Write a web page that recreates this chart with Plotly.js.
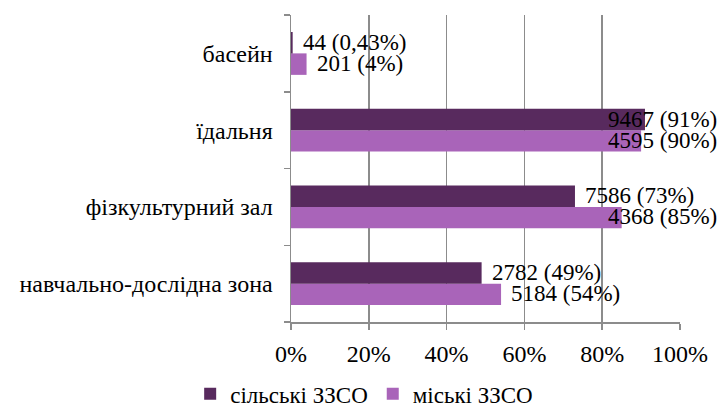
<!DOCTYPE html>
<html>
<head>
<meta charset="utf-8">
<script src="https://cdn.plot.ly/plotly-3.0.1.min.js"></script>
<style>
body{margin:0;background:#fff;}
#chart{width:724px;height:408px;}
</style>
</head>
<body>
<div id="chart"></div>
<script>
// categories, bottom to top
const categories=["навчально-дослідна зона","фізкультурний зал","їдальня","басейн"];

const ruralName="сільські ЗЗСО";
const ruralShare=[0.49,0.73,0.91,0.0043];
const ruralLabels=["2782 (49%)","7586 (73%)","9467 (91%)","44 (0,43%)"];

const urbanName="міські ЗЗСО";
const urbanShare=[0.54,0.85,0.90,0.04];
const urbanLabels=["5184 (54%)","4368 (85%)","4595 (90%)","201 (4%)"];

const darkColor="#582a5e";
const lightColor="#a964b9";
const font="Liberation Serif, DejaVu Serif, serif";

/* ---------- labels next to bar ends ---------- */

function makeLabels(values,labels,shift){
    return values.map((v,i)=>{
        let a={
            y:categories[i],
            yref:"y",
            yshift:shift,
            text:labels[i],
            showarrow:false,
            font:{family:font,size:23,color:"#000"}
        };
        if(v>0.8){
            a.xref="paper"; a.x=1.1; a.xanchor="right";
        }else{
            a.xref="x"; a.x=v; a.xanchor="left"; a.xshift=8;
        }
        return a;
    });
}

let annotations=[]
.concat(makeLabels(ruralShare,ruralLabels,11))
.concat(makeLabels(urbanShare,urbanLabels,-10));

Plotly.newPlot("chart",[
    {
        type:"bar",
        orientation:"h",
        name:urbanName,
        y:categories,
        x:urbanShare,
        marker:{color:lightColor}
    },
    {
        type:"bar",
        orientation:"h",
        name:ruralName,
        y:categories,
        x:ruralShare,
        marker:{color:darkColor}
    }
],{
    width:724,
    height:408,
    margin:{l:291,r:44,t:15,b:86},
    paper_bgcolor:"#fff",
    plot_bgcolor:"#fff",
    barmode:"group",
    bargap:0.44,
    bargroupgap:0,
    font:{family:font,size:24,color:"#000"},
    showlegend:true,
    legend:{
        orientation:"h",
        traceorder:"reversed",
        xref:"container",
        yref:"container",
        x:0.503,
        xanchor:"center",
        y:0.035,
        yanchor:"middle",
        font:{family:font,size:23,color:"#000"}
    },
    xaxis:{
        range:[0,1],
        tickvals:[0,0.2,0.4,0.6,0.8,1],
        tickformat:".0%",
        showgrid:true,
        gridcolor:"#8c8c8c",
        gridwidth:1.5,
        zeroline:false,
        showline:true,
        linecolor:"#8c8c8c",
        linewidth:1.5,
        ticks:"outside",
        ticklen:6,
        tickcolor:"#8c8c8c",
        tickwidth:1.5,
        ticklabelstandoff:4,
        automargin:false,
        fixedrange:true
    },
    yaxis:{
        type:"category",
        categoryorder:"array",
        categoryarray:categories,
        showgrid:false,
        zeroline:false,
        showline:true,
        linecolor:"#8c8c8c",
        linewidth:1.5,
        ticks:"outside",
        tickson:"boundaries",
        ticklen:6,
        tickcolor:"#8c8c8c",
        tickwidth:1.5,
        ticklabelstandoff:12,
        automargin:false,
        fixedrange:true
    },
    annotations:annotations
},{displayModeBar:false,staticPlot:true});
</script>
</body>
</html>
